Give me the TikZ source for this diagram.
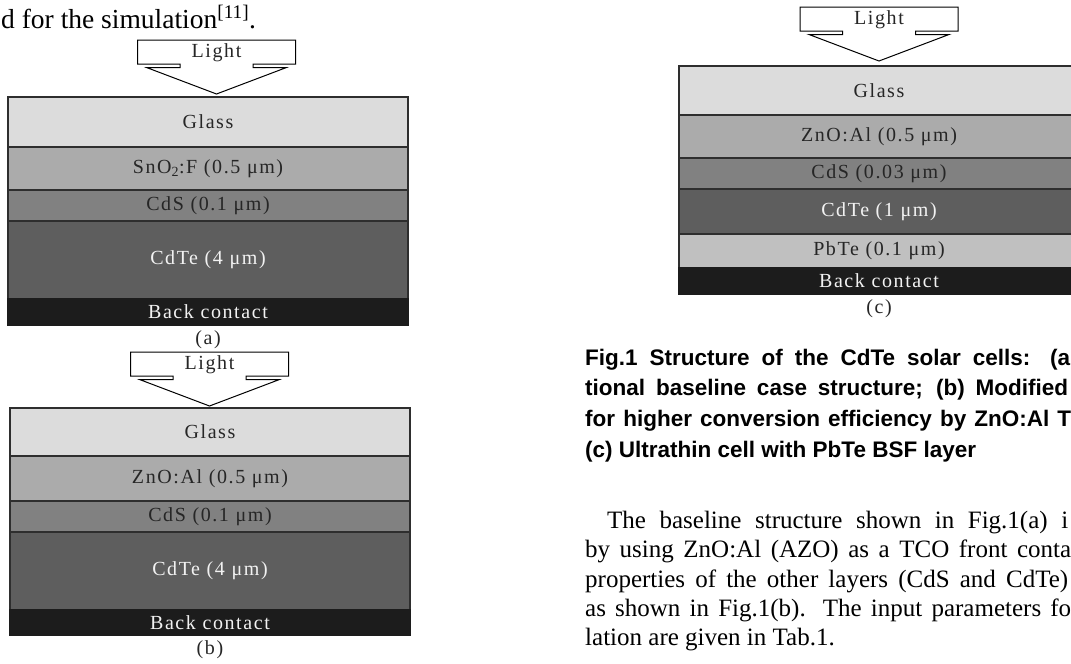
\documentclass[tikz,border=0pt]{standalone}
\usepackage{fontspec}
\setmainfont{Liberation Serif}
\newfontfamily\labfont{Liberation Serif}[LetterSpace=8]
\newfontfamily\capfont{Liberation Sans}
\definecolor{glassc}{HTML}{DCDCDC}
\definecolor{tcoc}{HTML}{ABABAB}
\definecolor{cdsc}{HTML}{818181}
\definecolor{cdtec}{HTML}{5E5E5E}
\definecolor{bcc}{HTML}{1C1C1C}
\definecolor{pbtec}{HTML}{C0C0C0}
\definecolor{edgec}{HTML}{2E2E2E}
\definecolor{darktext}{HTML}{262626}
\definecolor{lighttext}{HTML}{F2F2F2}
\begin{document}
\begin{tikzpicture}[x=1pt,y=-1pt,
  layer/.style={draw=edgec, line width=1.1pt, inner sep=0pt, outer sep=0pt, anchor=north west,
    minimum width=400pt, font=\labfont\fontsize{20}{23}\selectfont, text=darktext},
  wlayer/.style={layer, text=lighttext},
  sublabel/.style={inner sep=0pt, font=\labfont\fontsize{20}{23}\selectfont, text=darktext},
  captext/.style={inner sep=0pt, anchor=base west, font=\capfont\bfseries\fontsize{22.5}{26}\selectfont},
  bodytext/.style={inner sep=0pt, anchor=base west, font=\fontsize{25}{29}\selectfont},
  lightbox/.style={draw=black, line width=1pt, fill=white, line join=miter},
  lightarrow/.pic={
    \path[lightbox] (-79,0) -- (79,0) -- (79,24) -- (36.5,24) -- (36.5,27.5) -- (70,27.5)
      -- (0,54) -- (-70,27.5) -- (-36.5,27.5) -- (-36.5,24) -- (-79,24) -- cycle;
    \node[sublabel] (-t) at (0,12.5) {Light};
  }
]
\useasboundingbox (0,0) rectangle (1071,664);
\clip (0,0) rectangle (1071,664);
\fill[white] (0,0) rectangle (1071,664);

% top text
\node[inner sep=0pt, anchor=base west, font=\fontsize{27.5}{31}\selectfont] (toptext) at (1,28)
  {d for the simulation\textsuperscript{[11]}.};

% ---------- (a) ----------
\pic (aL) at (216.5,40) {lightarrow};
\node[layer, fill=glassc, minimum height=50pt] (aGlass) at (8,97) {Glass};
\node[layer, fill=tcoc, minimum height=43pt] (aTco) at (8,147) {SnO\textsubscript{2}:F (0.5 μm)};
\node[layer, fill=cdsc, minimum height=31pt] (aCds) at (8,190) {CdS (0.1 μm)};
\node[wlayer, fill=cdtec, minimum height=78pt] (aCdte) at (8,221) {CdTe (4 μm)};
\node[wlayer, fill=bcc, draw=bcc, minimum height=26pt] (aBc) at (8,299) {Back contact};
\node[sublabel] (aLab) at (208,340) {(a)};

% ---------- (b) ----------
\pic (bL) at (209.5,352) {lightarrow};
\node[layer, fill=glassc, minimum height=48pt] (bGlass) at (10,408) {Glass};
\node[layer, fill=tcoc, minimum height=45pt] (bTco) at (10,456) {ZnO:Al (0.5 μm)};
\node[layer, fill=cdsc, minimum height=31pt] (bCds) at (10,501) {CdS (0.1 μm)};
\node[wlayer, fill=cdtec, minimum height=78pt] (bCdte) at (10,532) {CdTe (4 μm)};
\node[wlayer, fill=bcc, draw=bcc, minimum height=25pt] (bBc) at (10,610) {Back contact};
\node[sublabel] (bLab) at (210,650) {(b)};

% ---------- (c) ----------
\pic (cL) at (879,7) {lightarrow};
\node[layer, fill=glassc, minimum height=49pt] (cGlass) at (679,66) {Glass};
\node[layer, fill=tcoc, minimum height=43pt] (cTco) at (679,115) {ZnO:Al (0.5 μm)};
\node[layer, fill=cdsc, minimum height=31pt] (cCds) at (679,158) {CdS (0.03 μm)};
\node[wlayer, fill=cdtec, minimum height=45pt] (cCdte) at (679,189) {CdTe (1 μm)};
\node[layer, fill=pbtec, minimum height=34pt] (cPbte) at (679,234) {PbTe (0.1 μm)};
\node[wlayer, fill=bcc, draw=bcc, minimum height=26pt] (cBc) at (679,268) {Back contact};
\node[sublabel] (cLab) at (879,309) {(c)};

% ---------- caption ----------
\node[captext] (cap1) at (585,365) {\makebox[485pt][s]{Fig.1 Structure of the CdTe solar cells: (a}};
\node[captext] (cap2) at (585,395) {\makebox[483pt][s]{tional baseline case structure; (b) Modified}};
\node[captext] (cap3) at (585,426) {\makebox[486pt][s]{for higher conversion efficiency by ZnO:Al T}};
\node[captext] (cap4) at (585,457) {(c) Ultrathin cell with PbTe BSF layer};

% ---------- body ----------
\node[bodytext] (body1) at (607,528) {\makebox[461pt][s]{The baseline structure shown in Fig.1(a) i}};
\node[bodytext] (body2) at (585,557) {\makebox[486pt][s]{by using ZnO:Al (AZO) as a TCO front conta}};
\node[bodytext] (body3) at (585,587) {\makebox[483pt][s]{properties of the other layers (CdS and CdTe)}};
\node[bodytext] (body4) at (585,616) {\makebox[486pt][s]{as shown in Fig.1(b). The input parameters fo}};
\node[bodytext] (body5) at (585,645) {lation are given in Tab.1.};
\end{tikzpicture}
\end{document}
